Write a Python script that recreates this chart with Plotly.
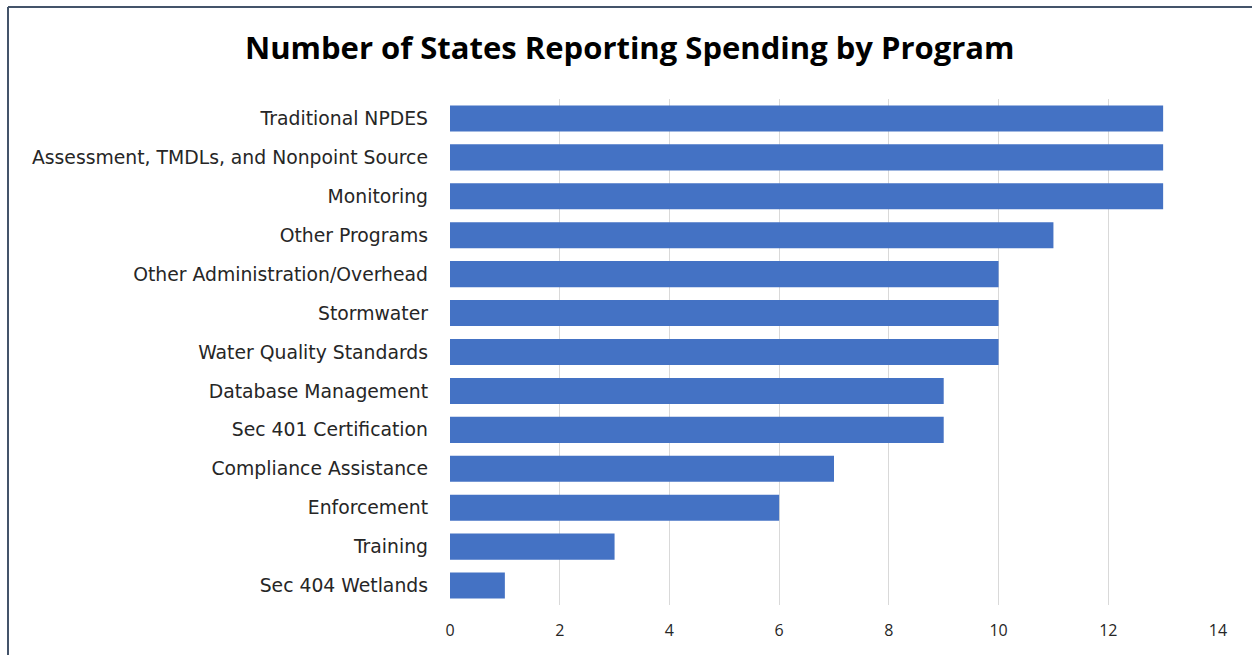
import plotly.graph_objects as go

programs = [
    "Traditional NPDES",
    "Assessment, TMDLs, and Nonpoint Source",
    "Monitoring",
    "Other Programs",
    "Other Administration/Overhead",
    "Stormwater",
    "Water Quality Standards",
    "Database Management",
    "Sec 401 Certification",
    "Compliance Assistance",
    "Enforcement",
    "Training",
    "Sec 404 Wetlands",
]
states = [13, 13, 13, 11, 10, 10, 10, 9, 9, 7, 6, 3, 1]
x_ticks = [0, 2, 4, 6, 8, 10, 12, 14]

W, H = 1252, 655
L, R, T, B = 450, 34, 99, 50

fig = go.Figure(go.Bar(
    x=states, y=programs, orientation="h",
    marker=dict(color="#4472C4", line=dict(width=0)),
))

fig.update_layout(
    width=W, height=H,
    margin=dict(l=L, r=R, t=T, b=B),
    paper_bgcolor="white", plot_bgcolor="white",
    bargap=0.33,
    showlegend=False,
    font=dict(family="Open Sans, Lato, sans-serif", size=16, color="#262626"),
    title=dict(
        text="<b>Number of States Reporting Spending by Program</b>",
        x=0.503, xanchor="center", xref="container",
        y=1 - 48 / H, yanchor="middle", yref="container",
        font=dict(size=31, color="#000000", family="Open Sans, Lato, sans-serif"),
    ),
    xaxis=dict(
        range=[0, 14], tickvals=x_ticks, showgrid=True, gridcolor="#d9d9d9",
        gridwidth=1, zeroline=False, showline=False, ticks="",
        tickfont=dict(size=16), ticklabelstandoff=14,
    ),
    yaxis=dict(
        categoryorder="array", categoryarray=programs[::-1],
        showgrid=False, showline=False, ticks="", zeroline=False,
        tickfont=dict(size=18.8, family="DejaVu Sans, Verdana, sans-serif"),
        ticklabelstandoff=21,
    ),
    shapes=[
        dict(type="line", xref="paper", yref="paper",
             x0=(8 - L) / (W - L - R), x1=(W - L) / (W - L - R) + 0.01,
             y0=1 + (T - 7) / (H - T - B), y1=1 + (T - 7) / (H - T - B),
             line=dict(color="#44546A", width=2)),
        dict(type="line", xref="paper", yref="paper",
             x0=(8 - L) / (W - L - R), x1=(8 - L) / (W - L - R),
             y0=1 + (T - 7) / (H - T - B), y1=-B / (H - T - B) - 0.01,
             line=dict(color="#44546A", width=2)),
    ],
)

fig.write_html("out.html")
